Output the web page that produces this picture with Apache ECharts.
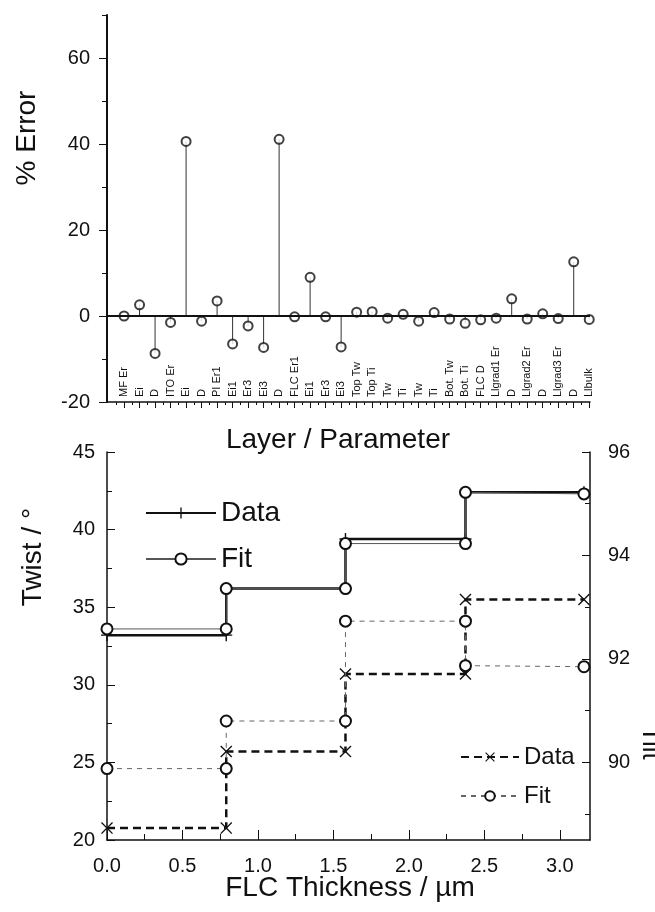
<!DOCTYPE html>
<html>
<head>
<meta charset="utf-8">
<script src="https://cdn.jsdelivr.net/npm/echarts@6/dist/echarts.min.js"></script>
<style>
  html, body { margin: 0; padding: 0; background: #fff; }
  #chart { width: 655px; height: 912px; }
</style>
</head>
<body>
<div id="chart"></div>
<script>
// top panel: % error of each fitted layer parameter
const paramNames = ['MF Er', 'Ei', 'D', 'ITO Er', 'Ei', 'D', 'PI Er1', 'Ei1', 'Er3', 'Ei3', 'D',
  'FLC Er1', 'Ei1', 'Er3', 'Ei3', 'Top Tw', 'Top Ti', 'Tw', 'Ti', 'Tw', 'Ti', 'Bot. Tw', 'Bot. Ti',
  'FLC D', 'Llgrad1 Er', 'D', 'Llgrad2 Er', 'D', 'Llgrad3 Er', 'D', 'Llbulk'];
const errorValues = [0, 2.6, -8.7, -1.5, 40.6, -1.2, 3.5, -6.5, -2.3, -7.3, 41.1,
  -0.2, 9.0, -0.2, -7.2, 0.9, 1.0, -0.5, 0.4, -1.2, 0.8, -0.7, -1.7,
  -0.9, -0.5, 4.0, -0.7, 0.5, -0.6, 12.6, -0.8];
const errorTicks = [-20, 0, 20, 40, 60];
const errorMinorTicks = [-10, 10, 30, 50, 70];

// bottom panel: twist and tilt profiles through the FLC layer
const thickness = [0, 0.79, 0.79, 1.58, 1.58, 2.375, 2.375, 3.16];
const twistData = [33.2, 33.2, 36.2, 36.2, 39.4, 39.4, 42.4, 42.4];
const twistFit = [33.6, 33.6, 36.2, 36.2, 39.1, 39.1, 42.4, 42.3];
const tiltData = [88.73, 88.73, 90.21, 90.21, 91.71, 91.71, 93.15, 93.15];
const tiltFit = [89.88, 89.88, 90.8, 90.8, 92.73, 92.73, 91.87, 91.85];
const thicknessTicks = [0, 0.5, 1, 1.5, 2, 2.5, 3];
const thicknessMinorTicks = [0.25, 0.75, 1.25, 1.75, 2.25, 2.75];
const twistTicks = [20, 25, 30, 35, 40, 45];
const twistMinorTicks = [22.5, 27.5, 32.5, 37.5, 42.5];
const tiltTicks = [90, 92, 94, 96];
const tiltMinorTicks = [89, 91, 93, 95];

const FONT = '"Liberation Sans", Arial, Helvetica, sans-serif';
const INK = '#111';
const PLUS = 'path://M4.4,0 H5.6 V4.4 H10 V5.6 H5.6 V10 H4.4 V5.6 H0 V4.4 H4.4 Z';
const CROSS = 'path://M0,0.8 L0.8,0 L5,4.2 L9.2,0 L10,0.8 L5.8,5 L10,9.2 L9.2,10 L5,5.8 L0.8,10 L0,9.2 L4.2,5 Z';

const paramIdx = paramNames.map((_, i) => i);
const halfIdx = paramNames.slice(0, -1).map((_, i) => i + 0.5).concat([-0.5]);
const pairs = (ys) => thickness.map((x, i) => [x, ys[i]]);

// extra axis that only draws a set of (minor) ticks
function tickAxis(base) {
  return Object.assign({
    type: 'value',
    splitLine: { show: false },
    axisLine: { show: false, onZero: false },
    axisLabel: { show: false },
  }, base);
}

const chart = echarts.init(document.getElementById('chart'));

const title = (text, x, y, size, rotation) => ({
  type: 'text',
  x: x, y: y,
  rotation: rotation || 0,
  silent: true,
  style: {
    text: text,
    fill: INK,
    font: size + 'px ' + FONT,
    align: 'center', textAlign: 'center',
    verticalAlign: 'middle', textVerticalAlign: 'middle',
  },
});

chart.setOption({
  animation: false,
  backgroundColor: '#fff',
  textStyle: { fontFamily: FONT, color: INK },
  grid: [
    { left: 107, top: 15, width: 483, height: 387 },
    { left: 107, top: 452, width: 483, height: 388 },
  ],
  xAxis: [
    {
      gridIndex: 0, type: 'value', position: 'bottom', min: -1.1, max: 30.05,
      splitLine: { show: false },
      axisLine: { onZero: false, lineStyle: { color: INK, width: 1.5 } },
      axisTick: { customValues: paramIdx, length: 6, lineStyle: { color: INK } },
      axisLabel: {
        customValues: paramIdx, inside: true, rotate: 90, margin: 5,
        fontSize: 11, color: INK, formatter: (v) => paramNames[Math.round(v)],
      },
    },
    tickAxis({
      gridIndex: 0, position: 'bottom', min: -1.1, max: 30.05,
      axisTick: { customValues: halfIdx, length: 3, lineStyle: { color: INK } },
    }),
    {
      gridIndex: 1, type: 'value', position: 'bottom', min: 0, max: 3.2,
      splitLine: { show: false },
      axisLine: { onZero: false, lineStyle: { color: INK, width: 1.5 } },
      axisTick: { customValues: thicknessTicks, inside: true, length: 10, lineStyle: { color: INK } },
      axisLabel: {
        customValues: thicknessTicks, margin: 16, fontSize: 20, color: INK,
        formatter: (v) => v.toFixed(1),
      },
    },
    tickAxis({
      gridIndex: 1, position: 'bottom', min: 0, max: 3.2,
      axisTick: { customValues: thicknessMinorTicks, inside: true, length: 6, lineStyle: { color: INK } },
    }),
  ],
  yAxis: [
    {
      gridIndex: 0, type: 'value', position: 'left', min: -20, max: 70,
      splitLine: { show: false },
      axisLine: { onZero: false, lineStyle: { color: INK, width: 2 } },
      axisTick: { customValues: errorTicks, length: 8, lineStyle: { color: INK } },
      axisLabel: { customValues: errorTicks, margin: 17, fontSize: 20, color: INK },
    },
    tickAxis({
      gridIndex: 0, position: 'left', min: -20, max: 70,
      axisTick: { customValues: errorMinorTicks, length: 5, lineStyle: { color: INK } },
    }),
    {
      gridIndex: 1, type: 'value', position: 'left', min: 20, max: 45,
      splitLine: { show: false },
      axisLine: { onZero: false, lineStyle: { color: INK, width: 1.5 } },
      axisTick: { customValues: twistTicks, inside: true, length: 8, lineStyle: { color: INK } },
      axisLabel: { customValues: twistTicks, margin: 12, fontSize: 20, color: INK },
    },
    tickAxis({
      gridIndex: 1, position: 'left', min: 20, max: 45,
      axisTick: { customValues: twistMinorTicks, inside: true, length: 5, lineStyle: { color: INK } },
    }),
    {
      gridIndex: 1, type: 'value', position: 'right', min: 88.5, max: 96,
      splitLine: { show: false },
      axisLine: { onZero: false, lineStyle: { color: INK, width: 1.5 } },
      axisTick: { customValues: tiltTicks, inside: true, length: 8, lineStyle: { color: INK } },
      axisLabel: { customValues: tiltTicks, margin: 18, fontSize: 20, color: INK },
    },
    tickAxis({
      gridIndex: 1, position: 'right', min: 88.5, max: 96,
      axisTick: { customValues: tiltMinorTicks, inside: true, length: 5, lineStyle: { color: INK } },
    }),
  ],
  legend: [
    {
      data: ['Twist Data', 'Twist Fit'],
      formatter: (n) => n.split(' ')[1],
      orient: 'vertical', left: 140, top: 494,
      itemWidth: 70, itemHeight: 14, itemGap: 18,
      textStyle: { fontSize: 28, color: INK },
    },
    {
      data: ['Tilt Data', 'Tilt Fit'],
      formatter: (n) => n.split(' ')[1],
      orient: 'vertical', left: 455, top: 740,
      itemWidth: 58, itemHeight: 12, itemGap: 15,
      textStyle: { fontSize: 24, color: INK },
    },
  ],
  graphic: [
    title('% Error', 27, 138, 28, Math.PI / 2),
    title('Layer / Parameter', 338, 440, 28),
    title('Twist / °', 33, 557, 28, Math.PI / 2),
    title('FLC Thickness / µm', 350, 888, 28),
    title('Tilt', 650, 743, 26, -Math.PI / 2),
  ],
  series: [
    {
      name: 'stems', type: 'custom', xAxisIndex: 0, yAxisIndex: 0,
      data: paramIdx.map((i) => [i, errorValues[i]]),
      renderItem: (params, api) => {
        const p0 = api.coord([api.value(0), 0]);
        const p1 = api.coord([api.value(0), api.value(1)]);
        return {
          type: 'line',
          shape: { x1: p0[0], y1: p0[1], x2: p1[0], y2: p1[1] },
          style: { stroke: '#333', lineWidth: 1 },
        };
      },
      markLine: {
        silent: true, symbol: 'none', label: { show: false },
        lineStyle: { color: INK, width: 2, type: 'solid' },
        data: [{ yAxis: 0 }],
      },
      z: 2,
    },
    {
      name: 'error', type: 'scatter', xAxisIndex: 0, yAxisIndex: 0,
      data: paramIdx.map((i) => [i, errorValues[i]]),
      symbol: 'emptyCircle', symbolSize: 9,
      itemStyle: { color: INK, borderColor: INK, borderWidth: 1.1 },
      z: 3,
    },
    {
      name: 'Twist Data', type: 'line', xAxisIndex: 2, yAxisIndex: 2,
      data: pairs(twistData), showAllSymbol: true,
      symbol: PLUS, symbolSize: 12,
      lineStyle: { color: INK, width: 2.5 },
      itemStyle: { color: INK },
      z: 3,
    },
    {
      name: 'Twist Fit', type: 'line', xAxisIndex: 2, yAxisIndex: 2,
      data: pairs(twistFit), showAllSymbol: true,
      symbol: 'emptyCircle', symbolSize: 11,
      lineStyle: { color: '#555', width: 1 },
      itemStyle: { color: INK, borderColor: INK, borderWidth: 1.2 },
      z: 4,
    },
    {
      name: 'Tilt Data', type: 'line', xAxisIndex: 2, yAxisIndex: 4,
      data: pairs(tiltData), showAllSymbol: true,
      symbol: CROSS, symbolSize: 12,
      lineStyle: { color: INK, width: 2.5, type: [8, 5] },
      itemStyle: { color: INK },
      z: 3,
    },
    {
      name: 'Tilt Fit', type: 'line', xAxisIndex: 2, yAxisIndex: 4,
      data: pairs(tiltFit), showAllSymbol: true,
      symbol: 'emptyCircle', symbolSize: 11,
      lineStyle: { color: '#666', width: 1, type: [5, 5] },
      itemStyle: { color: INK, borderColor: INK, borderWidth: 1.2 },
      z: 4,
    },
  ],
});
</script>
</body>
</html>
